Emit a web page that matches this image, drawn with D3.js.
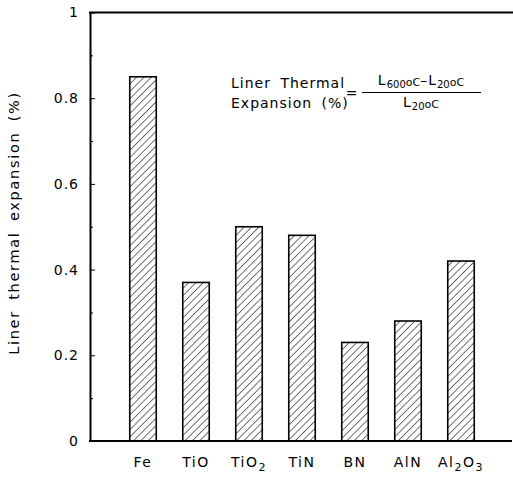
<!DOCTYPE html>
<html>
<head>
<meta charset="utf-8">
<script src="https://cdn.jsdelivr.net/npm/d3@7"></script>
<style>
  body { margin: 0; background: #fff; }
  text { font-family: "DejaVu Sans", sans-serif; fill: #000; }
</style>
</head>
<body>
<div id="graph1"></div>
<script>
// data
var materials = ["Fe", "TiO", "TiO2", "TiN", "BN", "AlN", "Al2O3"];
var expansion = [0.85, 0.37, 0.50, 0.48, 0.23, 0.28, 0.42];
var majorTicks = [0, 0.2, 0.4, 0.6, 0.8, 1];
var minorTicks = [0.1, 0.3, 0.5, 0.7, 0.9];

var width = 513, height = 477;
var plotLeft = 90, plotTop = 12.5, plotBottom = 441;

var svg = d3.select("#graph1")
  .append("svg")
    .attr("width", width)
    .attr("height", height);

// hatch pattern for the bars
var defs = svg.append("defs");
defs.append("pattern")
    .attr("id", "hatch")
    .attr("patternUnits", "userSpaceOnUse")
    .attr("width", 5.2)
    .attr("height", 5.2)
    .attr("patternTransform", "rotate(45)")
  .append("line")
    .attr("x1", 0).attr("y1", 0)
    .attr("x2", 0).attr("y2", 5.2)
    .attr("stroke", "#000")
    .attr("stroke-width", 1.1);

var y = d3.scaleLinear()
  .domain([0, 1])
  .range([plotBottom, plotTop]);

var x = d3.scaleBand()
  .domain(materials)
  .range([116.5, 487.5])
  .paddingInner(0.5)
  .paddingOuter(0.25);

// bars
svg.append("g")
  .selectAll("rect")
  .data(materials)
  .enter()
  .append("rect")
    .attr("x", function(d) { return x(d); })
    .attr("y", function(d, i) { return y(expansion[i]); })
    .attr("width", x.bandwidth())
    .attr("height", function(d, i) { return plotBottom - y(expansion[i]); })
    .attr("fill", "url(#hatch)")
    .attr("stroke", "#000")
    .attr("stroke-width", 1.6);

// left axis, ticks pointing inward
var yAxis = svg.append("g")
  .attr("transform", "translate(" + plotLeft + ",0)")
  .call(d3.axisLeft(y)
    .tickValues(majorTicks)
    .tickSizeInner(-5)
    .tickSizeOuter(0)
    .tickPadding(11)
    .tickFormat(function(d) { return String(d); }));
yAxis.select(".domain").attr("stroke-width", 2);
yAxis.selectAll("text")
  .style("font-size", "14px")
  .style("letter-spacing", "1px")
  .style("font-family", "DejaVu Sans, sans-serif");

var yMinor = svg.append("g")
  .attr("transform", "translate(" + plotLeft + ",0)")
  .call(d3.axisLeft(y).tickValues(minorTicks).tickSizeInner(-3).tickSizeOuter(0).tickFormat(""));
yMinor.select(".domain").remove();

// top and bottom frame lines
svg.append("line")
  .attr("x1", plotLeft - 1).attr("x2", 513)
  .attr("y1", plotTop).attr("y2", plotTop)
  .attr("stroke", "#000").attr("stroke-width", 2);
svg.append("line")
  .attr("x1", plotLeft - 1).attr("x2", 512)
  .attr("y1", plotBottom).attr("y2", plotBottom)
  .attr("stroke", "#000").attr("stroke-width", 2);

// x labels with subscripts
var xl = svg.append("g")
  .selectAll("text")
  .data(materials)
  .enter()
  .append("text")
    .attr("x", function(d) { return x(d) + x.bandwidth() / 2; })
    .attr("y", 467)
    .attr("text-anchor", "middle")
    .style("font-size", "14px")
    .style("letter-spacing", "1.5px");
xl.each(function(d) {
  var t = d3.select(this);
  var shift = 0;
  d.split(/(\d)/).forEach(function(p) {
    if (p === "") return;
    var sub = /\d/.test(p);
    var target = sub ? 4 : 0;
    var ts = t.append("tspan").attr("dy", target - shift).text(p);
    if (sub) ts.style("font-size", "11px");
    shift = target;
  });
});

// y axis title
svg.append("text")
  .attr("transform", "translate(19," + 223 + ")rotate(-90)")
  .attr("text-anchor", "middle")
  .style("font-size", "14.5px")
  .style("letter-spacing", "1.7px")
  .style("word-spacing", "4px")
  .text("Liner thermal expansion (%)");

// formula annotation
var ann = svg.append("g").style("font-size", "14px").style("letter-spacing", "1px");
ann.append("text").attr("x", 231).attr("y", 88).style("word-spacing", "4px").text("Liner Thermal");
ann.append("text").attr("x", 231).attr("y", 108).style("word-spacing", "4px").text("Expansion (%)");
ann.append("text").attr("x", 352).attr("y", 98).attr("text-anchor", "middle").text("=");
ann.append("line")
  .attr("x1", 362).attr("x2", 481)
  .attr("y1", 92.5).attr("y2", 92.5)
  .attr("stroke", "#000").attr("stroke-width", 1.2);

var addTemp = function(t, temp) {
  t.append("tspan").attr("dy", 0).text("L");
  t.append("tspan").attr("dy", 3).style("font-size", "10px").style("letter-spacing", "0px").text(temp);
  t.append("tspan").attr("dy", -2).style("font-size", "11px").style("letter-spacing", "0px").text("oC");
};
var num = ann.append("text").attr("x", 421).attr("y", 85).attr("text-anchor", "middle");
addTemp(num, "600");
num.append("tspan").attr("dy", -1).text("\u2013");
addTemp(num, "20");
var den = ann.append("text").attr("x", 421).attr("y", 107).attr("text-anchor", "middle");
addTemp(den, "20");
</script>
</body>
</html>
